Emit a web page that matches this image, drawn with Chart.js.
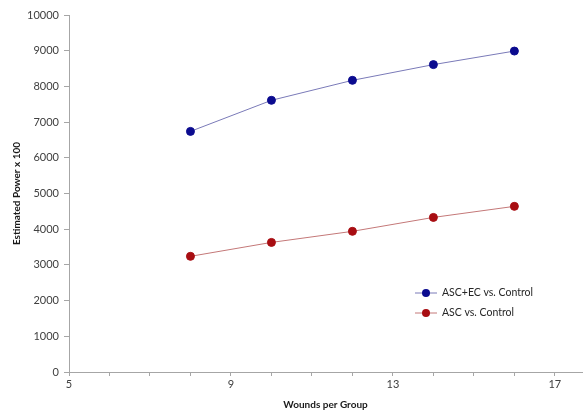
<!DOCTYPE html>
<html>
<head>
<meta charset="utf-8">
<script src="https://cdn.jsdelivr.net/npm/chart.js@4"></script>
<style>
  html, body { margin: 0; padding: 0; background: #fff; }
  #wrap { position: relative; width: 587px; height: 411px; }
</style>
</head>
<body>
<div id="wrap"><canvas id="chart"></canvas></div>
<script>
const wounds = [8, 10, 12, 14, 16];
const ascEcVsControl = [6740, 7610, 8170, 8610, 8990];
const ascVsControl = [3240, 3630, 3940, 4330, 4640];
const seriesNames = ["ASC+EC vs. Control", "ASC vs. Control"];

const fontFamily = "Lato, 'Open Sans', sans-serif";

const toPoints = (ys) => wounds.map((x, i) => ({ x: x, y: ys[i] }));

// legend drawn inside the plot area, like the original
const insideLegend = {
  id: "insideLegend",
  afterDraw(chart) {
    const ctx = chart.ctx;
    const area = chart.chartArea;
    const x0 = area.left + 346;
    let y = area.top + 278;
    ctx.save();
    ctx.font = "10.5px " + fontFamily;
    ctx.textBaseline = "middle";
    chart.data.datasets.forEach((ds) => {
      ctx.strokeStyle = ds.borderColor;
      ctx.lineWidth = 1;
      ctx.beginPath();
      ctx.moveTo(x0, y);
      ctx.lineTo(x0 + 22, y);
      ctx.stroke();
      ctx.fillStyle = ds.pointBackgroundColor;
      ctx.beginPath();
      ctx.arc(x0 + 11, y, 4, 0, Math.PI * 2);
      ctx.fill();
      ctx.fillStyle = "#262626";
      ctx.fillText(ds.label, x0 + 27, y);
      y += 20;
    });
    ctx.restore();
  },
};

new Chart(document.getElementById("chart"), {
  type: "scatter",
  plugins: [insideLegend],
  data: {
    datasets: [
      {
        label: seriesNames[0],
        data: toPoints(ascEcVsControl),
        showLine: true,
        borderColor: "#7a7ab8",
        borderWidth: 1,
        pointBackgroundColor: "#0b0b8f",
        pointBorderColor: "#0b0b8f",
        pointRadius: 4,
      },
      {
        label: seriesNames[1],
        data: toPoints(ascVsControl),
        showLine: true,
        borderColor: "#c47878",
        borderWidth: 1,
        pointBackgroundColor: "#a80d12",
        pointBorderColor: "#a80d12",
        pointRadius: 4,
      },
    ],
  },
  options: {
    responsive: true,
    maintainAspectRatio: false,
    animation: false,
    layout: { padding: { top: 15, right: 0, left: 0, bottom: 0 } },
    plugins: {
      legend: { display: false },
      tooltip: { enabled: false },
    },
    scales: {
      x: {
        type: "linear",
        min: 5,
        max: 17.67,
        afterFit: (scale) => { scale.height = 39; },
        ticks: {
          stepSize: 1,
          includeBounds: false,
          autoSkip: false,
          maxRotation: 0,
          padding: 2,
          color: "#404040",
          font: { family: fontFamily, size: 11 },
          callback: (v) => ((v - 5) % 4 === 0 ? String(v) : ""),
        },
        grid: {
          drawOnChartArea: false,
          tickLength: 4,
          color: "#a6a6a6",
        },
        border: { color: "#a6a6a6" },
        title: {
          display: true,
          text: "Wounds per Group",
          color: "#1a1a1a",
          padding: { top: 0, bottom: 0 },
          font: { family: fontFamily, size: 10, weight: "bold" },
        },
      },
      y: {
        min: 0,
        max: 10000,
        afterFit: (scale) => { scale.width = 69; },
        ticks: {
          stepSize: 1000,
          padding: 5,
          color: "#404040",
          font: { family: fontFamily, size: 11 },
          callback: (v) => String(v),
        },
        grid: {
          drawOnChartArea: false,
          tickLength: 5,
          color: "#a6a6a6",
        },
        border: { color: "#a6a6a6" },
        title: {
          display: true,
          text: "Estimated Power x 100",
          color: "#1a1a1a",
          padding: { top: 11, bottom: 0 },
          font: { family: fontFamily, size: 10, weight: "bold" },
        },
      },
    },
  },
});
</script>
</body>
</html>
